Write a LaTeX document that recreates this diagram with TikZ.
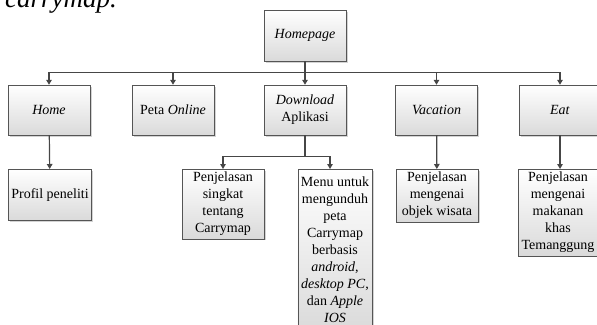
\documentclass[tikz,border=0pt]{standalone}
\usepackage{fontspec}
\setmainfont{Liberation Serif}
\usetikzlibrary{positioning,arrows.meta,shadows}
\definecolor{linegray}{RGB}{70,70,70}
\definecolor{edgegray}{RGB}{85,85,85}
\definecolor{boxgray}{RGB}{218,218,218}
\tikzset{
  menubox/.style ={rectangle, draw=edgegray, top color=white, bottom color=boxgray,
                   drop shadow={shadow xshift=1.5pt, shadow yshift=-1.5pt, opacity=.35},
                   align=center, font=\fontsize{14}{17}\selectfont, inner sep=3pt,
                   minimum width=82pt},
  toprow/.style  ={menubox, minimum height=50pt},
  subrow/.style  ={menubox, anchor=north},
  link/.style    ={-{Triangle[length=5pt, width=5.5pt]}, line width=1.2pt, draw=linegray},
}

\begin{document}
\begin{tikzpicture}[x=1pt,y=-1pt]
\useasboundingbox (0,0) rectangle (597,324);
\node[anchor=base west, inner sep=0, font=\fontsize{27}{30}\selectfont\itshape] (cap) at (5,7) {carrymap.};
% level 0
\node[menubox, minimum height=51pt] (hp) at (305,35.5) {\textit{Homepage}};
% level 1
\node[toprow] (home) at (49,110) {\textit{Home}};
\node[toprow] (peta) at (173,110) {Peta \textit{Online}};
\node[toprow] (dl) at (305,110) {\textit{Download}\\ Aplikasi};
\node[toprow] (vac) at (436.5,110) {\textit{Vacation}};
\node[toprow] (eat) at (560,110) {\textit{Eat}};
\foreach \n in {home,peta,dl,vac,eat} \draw[link] (hp.south) -- ++(0,11) -| (\n.north);
% level 2
\node[subrow, minimum height=51pt] (prof) at (50,169) {Profil peneliti};
\node[subrow] (sing) at (223,169) {Penjelasan\\ singkat\\ tentang\\ Carrymap};
\node[subrow, minimum width=74pt, minimum height=162pt] (menu) at (335,169)
  {Menu untuk\\ mengunduh\\ peta\\ Carrymap\\ berbasis\\ \textit{android},\\ \textit{desktop PC},\\ dan \textit{Apple}\\ \textit{IOS}};
\node[subrow] (wis) at (437,169) {Penjelasan\\ mengenai\\ objek wisata};
\node[subrow, minimum width=78pt] (mkn) at (558,169) {Penjelasan\\ mengenai\\ makanan\\ khas\\ Temanggung};
\draw[link] (home) -- (prof);
\draw[link] (vac) -- (wis);
\draw[link] (eat.south) -- (eat.south |- mkn.north);
\draw[link] (dl.south) -- ++(0,21) -| (sing.north);
\draw[link] (dl.south) -- ++(0,21) -| ([xshift=-5pt]menu.north);
\end{tikzpicture}
\end{document}
